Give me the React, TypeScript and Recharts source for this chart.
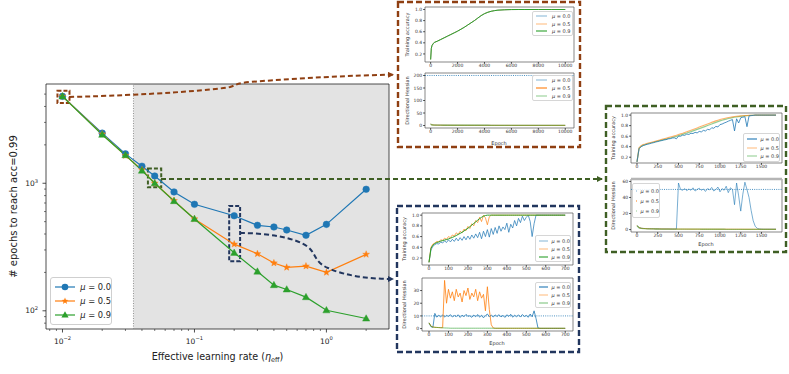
import React from 'react';
import { LineChart, Line, XAxis, YAxis, ReferenceArea, ReferenceLine } from 'recharts';

const BLUE = '#1f77b4';
const ORANGE = '#ff7f0e';
const GREEN = '#2ca02c';
const BROWN = '#8f3f12';
const OLIVE = '#3f5f24';
const NAVY = '#22365e';
const FONT = 'DejaVu Sans, Liberation Sans, sans-serif';

// ---------------- main chart data ----------------
const learningRates = [0.01, 0.02, 0.03, 0.04, 0.05, 0.07, 0.1, 0.2, 0.3, 0.4, 0.5, 0.7, 1, 2];
const epochsMu00 = [4800, 2470, 1700, 1360, 1140, 855, 684, 556, 468, 454, 430, 391, 476, 897];
const epochsMu05 = [4800, 2430, 1650, 1273, 1000, 730, 525, 333, 280, 237, 219, 224, 200, 277];
const epochsMu09 = [4800, 2400, 1660, 1255, 1000, 725, 525, 285, 203, 159, 147, 128, 101, 87];
const xMajorTicks = [0.01, 0.1, 1];
const xMinorTicks = [0.008, 0.009, 0.02, 0.03, 0.04, 0.05, 0.06, 0.07, 0.08, 0.09, 0.2, 0.3, 0.4, 0.5, 0.6, 0.7, 0.8, 0.9, 2];
const yMajorTicks = [100, 1000];
const yMinorTicks = [80, 90, 200, 300, 400, 500, 600, 700, 800, 900, 2000, 3000, 4000, 5000];
const muLabels = ['0.0', '0.5', '0.9'];

// ---------------- inset 1 (eta = 0.01) ----------------
const brownEpochs = [0, 50, 100, 200, 300, 500, 750, 1000, 1250, 1500, 1750, 2000, 2250, 2500, 2750, 3000, 3250, 3500, 3750, 4000, 4250, 4500, 4750, 5000, 5500, 6000, 6500, 7000, 8000, 9000, 10000];
const brownAcc0 = [0.1, 0.3, 0.35, 0.39, 0.41, 0.43, 0.46, 0.49, 0.52, 0.55, 0.58, 0.61, 0.645, 0.68, 0.72, 0.76, 0.8, 0.845, 0.89, 0.925, 0.95, 0.968, 0.98, 0.988, 0.995, 0.999, 1, 1, 1, 1, 1];
const brownAcc5 = [0.1, 0.3, 0.35, 0.39, 0.41, 0.43, 0.461, 0.491, 0.521, 0.551, 0.581, 0.611, 0.646, 0.681, 0.721, 0.761, 0.801, 0.846, 0.891, 0.926, 0.951, 0.968, 0.98, 0.988, 0.995, 0.999, 1, 1, 1, 1, 1];
const brownAcc9 = [0.1, 0.3, 0.35, 0.39, 0.41, 0.43, 0.46, 0.49, 0.52, 0.55, 0.58, 0.61, 0.645, 0.68, 0.72, 0.76, 0.8, 0.845, 0.89, 0.925, 0.95, 0.968, 0.98, 0.988, 0.995, 0.999, 1, 1, 1, 1, 1];
const brownHess0 = [6, 3.5, 2.8, 2.2, 1.9, 1.6, 1.4, 1.3, 1.2, 1.1, 1.05, 1, 0.95, 0.9, 0.88, 0.85, 0.82, 0.8, 0.78, 0.76, 0.74, 0.72, 0.7, 0.68, 0.65, 0.62, 0.6, 0.58, 0.55, 0.52, 0.5];
const brownHess5 = [6, 3.4, 2.7, 2.1, 1.8, 1.5, 1.35, 1.25, 1.15, 1.08, 1.02, 0.98, 0.94, 0.9, 0.87, 0.84, 0.81, 0.79, 0.77, 0.75, 0.73, 0.71, 0.69, 0.67, 0.64, 0.61, 0.59, 0.57, 0.54, 0.51, 0.49];
const brownHess9 = [6, 3.3, 2.6, 2, 1.7, 1.45, 1.3, 1.2, 1.1, 1.05, 1, 0.96, 0.92, 0.88, 0.85, 0.82, 0.8, 0.78, 0.76, 0.74, 0.72, 0.7, 0.68, 0.66, 0.63, 0.6, 0.58, 0.56, 0.53, 0.5, 0.48];

// ---------------- inset 2 (eta = 0.05) ----------------
const greenEpochs = [0, 25, 50, 75, 100, 125, 150, 175, 200, 225, 250, 275, 300, 325, 350, 375, 400, 425, 450, 475, 500, 525, 550, 575, 600, 625, 650, 675, 700, 725, 750, 775, 800, 825, 850, 875, 900, 925, 950, 975, 1000, 1025, 1050, 1075, 1100, 1125, 1150, 1175, 1200, 1225, 1250, 1275, 1300, 1325, 1350, 1375, 1400, 1425, 1450, 1475, 1500, 1525, 1550, 1575, 1600, 1625, 1650, 1675];
const greenAcc0 = [
  0.11, 0.36, 0.4, 0.42, 0.435, 0.445, 0.455, 0.468, 0.476, 0.49,
  0.497, 0.51, 0.516, 0.53, 0.533, 0.548, 0.552, 0.565, 0.568, 0.55,
  0.6, 0.598, 0.62, 0.615, 0.64, 0.632, 0.655, 0.65, 0.672, 0.662,
  0.69, 0.68, 0.71, 0.698, 0.73, 0.72, 0.76, 0.75, 0.785, 0.775,
  0.82, 0.83, 0.85, 0.865, 0.885, 0.9, 0.915, 0.7, 0.93, 0.85,
  0.95, 0.96, 0.97, 0.78, 0.985, 0.99, 0.995, 1, 1, 1,
  1, 1, 1, 1, 1, 1, 1, 1];
const greenAcc5 = [
  0.11, 0.38, 0.42, 0.44, 0.45, 0.465, 0.475, 0.485, 0.495, 0.505,
  0.517, 0.528, 0.539, 0.55, 0.561, 0.572, 0.583, 0.594, 0.605, 0.617,
  0.63, 0.643, 0.656, 0.67, 0.684, 0.698, 0.712, 0.727, 0.742, 0.757,
  0.772, 0.787, 0.802, 0.817, 0.832, 0.847, 0.862, 0.876, 0.89, 0.903,
  0.915, 0.926, 0.936, 0.945, 0.953, 0.96, 0.966, 0.972, 0.977, 0.981,
  0.985, 0.988, 0.991, 0.993, 0.995, 0.997, 0.998, 0.999, 1, 1,
  1, 1, 1, 1, 1, 1, 1, 1];
const greenAcc9 = [
  0.11, 0.37, 0.41, 0.43, 0.44, 0.455, 0.465, 0.475, 0.485, 0.495,
  0.505, 0.515, 0.525, 0.535, 0.545, 0.555, 0.565, 0.575, 0.585, 0.597,
  0.61, 0.622, 0.635, 0.648, 0.66, 0.673, 0.686, 0.7, 0.714, 0.728,
  0.742, 0.757, 0.772, 0.787, 0.802, 0.817, 0.832, 0.847, 0.862, 0.876,
  0.89, 0.902, 0.914, 0.925, 0.935, 0.944, 0.952, 0.959, 0.965, 0.971,
  0.976, 0.981, 0.985, 0.989, 0.992, 0.995, 0.997, 0.998, 0.999, 1,
  1, 1, 1, 1, 1, 1, 1, 1];
const greenHess0 = [
  5, 2.5, 1.8, 1.5, 1.3, 1.2, 1.1, 1, 1, 0.9,
  0.9, 0.9, 0.8, 0.8, 0.8, 0.8, 0.7, 0.7, 0.7, 0.7,
  58, 50, 49, 51, 48.5, 50.5, 49, 52, 48, 50,
  51.5, 49, 50.5, 47.5, 51, 49.5, 52.5, 48, 50, 53,
  47, 51, 49, 54, 46, 52, 50, 31, 58, 42,
  23, 44, 59, 50, 40, 24, 11, 4, 1.5, 0.8,
  0.6, 0.5, 0.5, 0.5, 0.5, 0.5, 0.5, 0.5];
const greenHess5 = [
  5, 2.4, 1.7, 1.4, 1.2, 1.1, 1, 0.95, 0.9, 0.85,
  0.8, 0.8, 0.75, 0.75, 0.7, 0.7, 0.7, 0.65, 0.65, 0.65,
  0.6, 0.6, 0.6, 0.6, 0.58, 0.58, 0.56, 0.56, 0.55, 0.55,
  0.54, 0.54, 0.53, 0.53, 0.52, 0.52, 0.51, 0.51, 0.5, 0.5,
  0.5, 0.49, 0.49, 0.48, 0.48, 0.47, 0.47, 0.46, 0.46, 0.45,
  0.45, 0.45, 0.44, 0.44, 0.44, 0.43, 0.43, 0.43, 0.42, 0.42,
  0.42, 0.41, 0.41, 0.41, 0.4, 0.4, 0.4, 0.4];
const greenHess9 = [
  4.8, 2.2, 1.6, 1.3, 1.1, 1, 0.92, 0.86, 0.8, 0.76,
  0.72, 0.7, 0.68, 0.66, 0.64, 0.62, 0.6, 0.58, 0.57, 0.56,
  0.55, 0.54, 0.53, 0.52, 0.51, 0.5, 0.49, 0.48, 0.47, 0.46,
  0.46, 0.45, 0.45, 0.44, 0.44, 0.43, 0.43, 0.42, 0.42, 0.41,
  0.41, 0.4, 0.4, 0.39, 0.39, 0.38, 0.38, 0.37, 0.37, 0.36,
  0.36, 0.36, 0.35, 0.35, 0.35, 0.34, 0.34, 0.34, 0.33, 0.33,
  0.33, 0.32, 0.32, 0.32, 0.31, 0.31, 0.31, 0.3];

// ---------------- inset 3 (eta = 0.2) ----------------
const navyEpochs = [
  0, 10, 20, 30, 40, 50, 60, 70, 80, 90,
  100, 110, 120, 130, 140, 150, 160, 170, 180, 190,
  200, 210, 220, 230, 240, 250, 260, 270, 280, 290,
  300, 310, 320, 330, 340, 350, 360, 370, 380, 390,
  400, 410, 420, 430, 440, 450, 460, 470, 480, 490,
  500, 510, 520, 530, 540, 550, 560, 570, 580, 590,
  600, 610, 620, 630, 640, 650, 660, 670, 680, 690,
  700];
const navyAcc0 = [
  0.12, 0.35, 0.42, 0.45, 0.47, 0.46, 0.5, 0.48, 0.52, 0.49,
  0.54, 0.5, 0.55, 0.51, 0.57, 0.52, 0.58, 0.53, 0.6, 0.54,
  0.61, 0.55, 0.63, 0.57, 0.65, 0.58, 0.68, 0.56, 0.7, 0.6,
  0.73, 0.59, 0.75, 0.64, 0.77, 0.66, 0.8, 0.7, 0.78, 0.73,
  0.85, 0.68, 0.83, 0.76, 0.9, 0.8, 0.94, 0.86, 0.98, 0.9,
  0.96, 1, 0.88, 0.6, 0.84, 1, 1, 1, 1, 1,
  1, 1, 1, 1, 1, 1, 1, 1, 1, 1,
  1];
const navyAcc5 = [
  0.12, 0.4, 0.46, 0.48, 0.51, 0.5, 0.54, 0.53, 0.57, 0.55,
  0.6, 0.58, 0.63, 0.61, 0.67, 0.64, 0.7, 0.67, 0.74, 0.71,
  0.79, 0.75, 0.84, 0.8, 0.9, 0.86, 0.96, 0.88, 1, 0.95,
  0.82, 0.97, 1, 1, 1, 1, 1, 1, 1, 1,
  1, 1, 1, 1, 1, 1, 1, 1, 1, 1,
  1, 1, 1, 1, 1, 1, 1, 1, 1, 1,
  1, 1, 1, 1, 1, 1, 1, 1, 1, 1,
  1];
const navyAcc9 = [
  0.12, 0.38, 0.44, 0.47, 0.49, 0.5, 0.515, 0.525, 0.535, 0.545,
  0.555, 0.57, 0.585, 0.6, 0.62, 0.64, 0.66, 0.68, 0.705, 0.73,
  0.755, 0.785, 0.815, 0.845, 0.875, 0.905, 0.935, 0.96, 0.98, 0.993,
  1, 1, 1, 1, 1, 1, 1, 1, 1, 1,
  1, 1, 1, 1, 1, 1, 1, 1, 1, 1,
  1, 1, 1, 1, 1, 1, 1, 1, 1, 1,
  1, 1, 1, 1, 1, 1, 1, 1, 1, 1,
  1];
const navyHess0 = [
  4.5, 1.5, 1, 12, 9, 10.5, 9.3, 10.8, 9.1, 10.4,
  9.6, 11, 9.2, 10.3, 9.5, 10.9, 8.8, 10.6, 9.4, 11.2,
  9.7, 10.1, 8.9, 10.7, 9.3, 11.1, 9, 10.5, 8.5, 10.2,
  11.5, 9.4, 10.6, 9.1, 10.8, 9.5, 11, 9.2, 10.4, 8.8,
  10.9, 9.6, 11.3, 9, 10.5, 9.4, 10.8, 9.1, 11.1, 9.5,
  10.4, 8.9, 11.5, 9.3, 14, 8, 0.5, 0.1, 0.1, 0.1,
  0.1, 0.1, 0.1, 0.1, 0.1, 0.1, 0.1, 0.1, 0.1, 0.1,
  0.1];
const navyHess5 = [
  4.5, 2, 1.3, 1, 0.9, 0.8, 0.7, 0.7, 38, 20,
  31, 24, 29, 22, 31, 25, 28, 21, 30, 26,
  32, 23, 28, 25, 31, 22, 29, 24, 27, 14,
  33, 15, 3, 0.5, 0.2, 0.2, 0.2, 0.2, 0.2, 0.2,
  0.2, 0.2, 0.2, 0.2, 0.2, 0.2, 0.2, 0.2, 0.2, 0.2,
  0.2, 0.2, 0.2, 0.2, 0.2, 0.2, 0.2, 0.2, 0.2, 0.2,
  0.2, 0.2, 0.2, 0.2, 0.2, 0.2, 0.2, 0.2, 0.2, 0.2,
  0.2];
const navyHess9 = [
  4.5, 1.8, 1.2, 1, 0.9, 0.8, 0.7, 0.6, 0.5, 0.45,
  0.4, 0.3, 0.3, 0.3, 0.3, 0.3, 0.3, 0.3, 0.3, 0.3,
  0.3, 0.3, 0.3, 0.3, 0.3, 0.3, 0.3, 0.3, 0.3, 0.3,
  0.3, 0.3, 0.3, 0.3, 0.3, 0.3, 0.3, 0.3, 0.3, 0.3,
  0.3, 0.3, 0.3, 0.3, 0.3, 0.3, 0.3, 0.3, 0.3, 0.3,
  0.3, 0.3, 0.3, 0.3, 0.3, 0.3, 0.3, 0.3, 0.3, 0.3,
  0.3, 0.3, 0.3, 0.3, 0.3, 0.3, 0.3, 0.3, 0.3, 0.3,
  0.3];

// ---------------- helpers ----------------
const mainRows = learningRates.map((lr, i) => ({ lr, m0: epochsMu00[i], m5: epochsMu05[i], m9: epochsMu09[i] }));
const rowsOf = (epochs: number[], s0: number[], s5: number[], s9: number[]) =>
  epochs.map((e, i) => ({ e, s0: s0[i], s5: s5[i], s9: s9[i] }));

const isMajor = (v: number) => Math.abs(Math.log10(v) - Math.round(Math.log10(v))) < 1e-6;
const expLabel = (v: number) => {
  const p = Math.round(Math.log10(v));
  return p < 0 ? '\u2212' + Math.abs(p) : String(p);
};

function MainXTick(props: any) {
  const { x, y, payload } = props;
  const major = isMajor(payload.value);
  return (
    <g>
      <line x1={x} x2={x} y1={y} y2={y + (major ? 3.5 : 2)} stroke="#222" strokeWidth={major ? 0.8 : 0.6} />
      {major && (
        <text x={x} y={y + 14.5} textAnchor="middle" fontSize={7.5} fill="#222" fontFamily={FONT}>
          10<tspan dy={-3.2} fontSize={5.2}>{expLabel(payload.value)}</tspan>
        </text>
      )}
    </g>
  );
}

function MainYTick(props: any) {
  const { x, y, payload } = props;
  const major = isMajor(payload.value);
  return (
    <g>
      <line x1={x} x2={x - (major ? 3.5 : 2)} y1={y} y2={y} stroke="#222" strokeWidth={major ? 0.8 : 0.6} />
      {major && (
        <text x={x - 8} y={y + 2.6} textAnchor="end" fontSize={7.5} fill="#222" fontFamily={FONT}>
          10<tspan dy={-3.2} fontSize={5.2}>{expLabel(payload.value)}</tspan>
        </text>
      )}
    </g>
  );
}

function XLabel(props: any) {
  const vb = props.viewBox || { x: 46, y: 329, width: 343, height: 30 };
  return (
    <text x={vb.x + vb.width / 2} y={vb.y + 30.5} textAnchor="middle" fontSize={9.6} fill="#222" fontFamily={FONT}>
      Effective learning rate (<tspan fontStyle="italic">η</tspan>
      <tspan fontSize={6.5} dy={2}>eff</tspan>
      <tspan dy={-2}>)</tspan>
    </text>
  );
}

const circleDot = (p: any) => <circle key={'c' + p.index} cx={p.cx} cy={p.cy} r={3.3} fill={BLUE} stroke={BLUE} strokeWidth={0.5} />;
const starPoints = (cx: number, cy: number, ro: number, ri: number) => {
  const pts: string[] = [];
  for (let k = 0; k < 10; k++) {
    const r = k % 2 === 0 ? ro : ri;
    const a = -Math.PI / 2 + (k * Math.PI) / 5;
    pts.push(`${cx + r * Math.cos(a)},${cy + r * Math.sin(a)}`);
  }
  return pts.join(' ');
};
const starDot = (p: any) => <polygon key={'s' + p.index} points={starPoints(p.cx, p.cy, 3.6, 1.5)} fill={ORANGE} stroke={ORANGE} strokeWidth={0.4} />;
const triDot = (p: any) => (
  <polygon key={'t' + p.index} points={`${p.cx},${p.cy - 3.8} ${p.cx - 3.6},${p.cy + 2.6} ${p.cx + 3.6},${p.cy + 2.6}`} fill={GREEN} stroke={GREEN} strokeWidth={0.4} />
);

function MarkerIcon({ kind, x, y }: { kind: number; x: number; y: number }) {
  if (kind === 0) return <circle cx={x} cy={y} r={3.3} fill={BLUE} />;
  if (kind === 1) return <polygon points={starPoints(x, y, 3.6, 1.5)} fill={ORANGE} />;
  return <polygon points={`${x},${y - 3.8} ${x - 3.6},${y + 2.6} ${x + 3.6},${y + 2.6}`} fill={GREEN} />;
}

function MainLegend() {
  const cols = [BLUE, ORANGE, GREEN];
  return (
    <div style={{ position: 'absolute', left: 50, top: 277, width: 62, height: 48, boxSizing: 'border-box', border: '0.8px solid #cfcfcf', borderRadius: 3, background: 'rgba(255,255,255,0.85)', display: 'flex', flexDirection: 'column', justifyContent: 'space-evenly', padding: '1px 0' }}>
      {muLabels.map((m, i) => (
        <div key={m} style={{ display: 'flex', alignItems: 'center', height: 13 }}>
          <svg width={26} height={12} style={{ marginLeft: 2 }}>
            <line x1={2} x2={22} y1={6} y2={6} stroke={cols[i]} strokeWidth={1.2} />
            <MarkerIcon kind={i} x={12} y={6} />
          </svg>
          <span style={{ fontSize: 8.3, color: '#222', fontFamily: FONT, whiteSpace: 'nowrap', marginLeft: 4 }}>
            <i>μ</i> = {m}
          </span>
        </div>
      ))}
    </div>
  );
}

type Item = { color: string; opacity: number };
function SmallLegend({ x, y, w, h, items }: { x: number; y: number; w: number; h: number; items: Item[] }) {
  return (
    <div style={{ position: 'absolute', left: x, top: y, width: w, height: h, boxSizing: 'border-box', border: '0.6px solid #d6d6d6', borderRadius: 2, background: 'rgba(255,255,255,0.85)', display: 'flex', flexDirection: 'column', justifyContent: 'space-evenly' }}>
      {items.map((it, i) => (
        <div key={i} style={{ display: 'flex', alignItems: 'center', height: 7 }}>
          <svg width={14} height={6} style={{ marginLeft: 2 }}>
            <line x1={1} x2={12} y1={3} y2={3} stroke={it.color} strokeOpacity={it.opacity} strokeWidth={1.1} />
          </svg>
          <span style={{ fontSize: 5, color: '#333', fontFamily: FONT, whiteSpace: 'nowrap', marginLeft: 3 }}>
            <i>μ</i> = {muLabels[i]}
          </span>
        </div>
      ))}
    </div>
  );
}

type Rect = { l: number; t: number; r: number; b: number };
type Ser = { key: string; color: string; opacity: number; width?: number };
function SubPlot(props: {
  rect: Rect; rows: any[]; series: Ser[]; xDomain: number[]; xTicks: number[]; yDomain: number[]; yTicks: number[];
  yFmt?: (v: number) => string; ylabel: string; refY?: number; topBand?: boolean;
}) {
  const { rect, rows, series, xDomain, xTicks, yDomain, yTicks, yFmt, ylabel, refY, topBand } = props;
  const LEFT = 30, RIGHT = 3, TOPM = 3, BOTTOM = 10;
  const w = rect.r - rect.l, h = rect.b - rect.t;
  return (
    <div style={{ position: 'absolute', left: rect.l - LEFT, top: rect.t - TOPM }}>
      <LineChart width={w + LEFT + RIGHT} height={h + TOPM + BOTTOM} data={rows} margin={{ top: TOPM, right: RIGHT, bottom: 0, left: 0 }}>
        <XAxis dataKey="e" type="number" domain={xDomain} ticks={xTicks} interval={0} allowDataOverflow height={BOTTOM}
          axisLine={false} tickSize={1.8} tickMargin={0.4} tick={{ fontSize: 4.5, fill: '#333', fontFamily: FONT }} stroke="#444" />
        <YAxis type="number" domain={yDomain} ticks={yTicks} interval={0} allowDataOverflow width={LEFT}
          axisLine={false} tickSize={1.8} tickMargin={1} tick={{ fontSize: 4.5, fill: '#333', fontFamily: FONT }} tickFormatter={yFmt} stroke="#444"
          label={{ value: ylabel, angle: -90, position: 'insideLeft', offset: 12.5, style: { textAnchor: 'middle', fontSize: 5, fill: '#333', fontFamily: FONT } }} />
        {refY !== undefined && <ReferenceLine y={refY} stroke={BLUE} strokeDasharray="1 1.2" strokeWidth={0.8} />}
        {series.map((s) => (
          <Line key={s.key} dataKey={s.key} stroke={s.color} strokeOpacity={s.opacity} strokeWidth={s.width ?? 0.8} dot={false} isAnimationActive={false} />
        ))}
        {topBand && <ReferenceLine y={yDomain[1]} stroke="#b5b5b5" strokeWidth={2.4} />}
        <ReferenceArea x1={xDomain[0]} x2={xDomain[1]} y1={yDomain[0]} y2={yDomain[1]} fill="none" fillOpacity={0} stroke="#555" strokeWidth={0.7} />
      </LineChart>
    </div>
  );
}

const fmt1 = (v: number) => v.toFixed(1);
const fmt0 = (v: number) => String(v);
const accTicks = [0.2, 0.4, 0.6, 0.8, 1.0];

function EpochLabel({ x, y }: { x: number; y: number }) {
  return <div style={{ position: 'absolute', left: x - 20, top: y - 4, width: 40, textAlign: 'center', fontSize: 5, lineHeight: '8px', color: '#333', fontFamily: FONT }}>Epoch</div>;
}

export default function App() {
  const brownTopRows = rowsOf(brownEpochs, brownAcc0, brownAcc5, brownAcc9);
  const brownBotRows = rowsOf(brownEpochs, brownHess0, brownHess5, brownHess9);
  const greenTopRows = rowsOf(greenEpochs, greenAcc0, greenAcc5, greenAcc9);
  const greenBotRows = rowsOf(greenEpochs, greenHess0, greenHess5, greenHess9);
  const navyTopRows = rowsOf(navyEpochs, navyAcc0, navyAcc5, navyAcc9);
  const navyBotRows = rowsOf(navyEpochs, navyHess0, navyHess5, navyHess9);

  const brownX = [-420, 10650];
  const greenX = [-72, 1747];
  const navyX = [-36, 740];

  return (
    <div style={{ position: 'absolute', left: 0, top: 0, width: 789, height: 374, background: '#fff', fontFamily: FONT, overflow: 'hidden' }}>
      {/* main chart */}
      <div style={{ position: 'absolute', left: 0, top: 0 }}>
        <LineChart width={400} height={374} data={mainRows} margin={{ top: 84, right: 11, bottom: 15, left: 0 }}>
          <XAxis dataKey="lr" type="number" scale="log" domain={[0.0075, 2.98]} allowDataOverflow
            ticks={[...xMinorTicks, ...xMajorTicks].sort((a, b) => a - b)} interval={0}
            tick={<MainXTick />} tickLine={false} axisLine={false} tickSize={0} tickMargin={0} height={30}
            label={<XLabel />} />
          <YAxis type="number" scale="log" domain={[72, 6000]} allowDataOverflow
            ticks={[...yMinorTicks, ...yMajorTicks].sort((a, b) => a - b)} interval={0}
            tick={<MainYTick />} tickLine={false} axisLine={false} tickSize={0} tickMargin={0} width={46}
            label={{ value: '# epochs to reach acc=0.99', angle: -90, position: 'insideLeft', offset: 13, style: { textAnchor: 'middle', fontSize: 10, fill: '#222', fontFamily: FONT } }} />
          <ReferenceArea x1={0.0345} x2={2.98} y1={72} y2={6000} fill="#e3e3e3" fillOpacity={1} stroke="none" />
          <ReferenceLine x={0.0345} stroke="#888" strokeDasharray="1 1.5" strokeWidth={0.9} />
          <Line dataKey="m0" stroke={BLUE} strokeWidth={1.2} dot={circleDot} isAnimationActive={false} />
          <Line dataKey="m5" stroke={ORANGE} strokeWidth={1.2} dot={starDot} isAnimationActive={false} />
          <Line dataKey="m9" stroke={GREEN} strokeWidth={1.2} dot={triDot} isAnimationActive={false} />
          <ReferenceArea x1={0.00916} x2={0.0113} y1={4250} y2={5310} fill="none" fillOpacity={0} stroke={BROWN} strokeWidth={2} strokeDasharray="4 2" />
          <ReferenceArea x1={0.0444} x2={0.056} y1={930} y2={1303} fill="none" fillOpacity={0} stroke={OLIVE} strokeWidth={2} strokeDasharray="4 2" />
          <ReferenceArea x1={0.1833} x2={0.2218} y1={245} y2={664} fill="none" fillOpacity={0} stroke={NAVY} strokeWidth={2} strokeDasharray="4 2" />
          <ReferenceArea x1={0.0075} x2={2.98} y1={72} y2={6000} fill="none" fillOpacity={0} stroke="#222" strokeWidth={0.8} />
        </LineChart>
        <MainLegend />
      </div>

      {/* inset eta=0.01 */}
      <SubPlot rect={{ l: 425, t: 7, r: 574, b: 62 }} rows={brownTopRows}
        series={[{ key: 's0', color: BLUE, opacity: 0.5 }, { key: 's5', color: ORANGE, opacity: 0.5 }, { key: 's9', color: GREEN, opacity: 1, width: 1 }]}
        xDomain={brownX} xTicks={[0, 2000, 4000, 6000, 8000, 10000]} yDomain={[0.055, 1.045]} yTicks={accTicks} yFmt={fmt1} ylabel="Training accuracy" />
      <SubPlot rect={{ l: 425, t: 73, r: 574, b: 128 }} rows={brownBotRows}
        series={[{ key: 's0', color: BLUE, opacity: 0.5 }, { key: 's5', color: ORANGE, opacity: 1 }, { key: 's9', color: GREEN, opacity: 0.5, width: 1.4 }]}
        xDomain={brownX} xTicks={[0, 2000, 4000, 6000, 8000, 10000]} yDomain={[-10, 210]} yTicks={[0, 50, 100, 150, 200]} yFmt={fmt0} ylabel="Directional Hessian" refY={200} />
      <SmallLegend x={532} y={11} w={41} h={25} items={[{ color: BLUE, opacity: 0.5 }, { color: ORANGE, opacity: 0.5 }, { color: GREEN, opacity: 1 }]} />
      <SmallLegend x={532} y={75} w={41} h={26} items={[{ color: BLUE, opacity: 0.5 }, { color: ORANGE, opacity: 1 }, { color: GREEN, opacity: 0.5 }]} />
      <EpochLabel x={499} y={143} />

      {/* inset eta=0.05 */}
      <SubPlot rect={{ l: 631, t: 113, r: 782, b: 163 }} rows={greenTopRows}
        series={[{ key: 's9', color: GREEN, opacity: 0.5, width: 1.2 }, { key: 's5', color: ORANGE, opacity: 0.6, width: 1.1 }, { key: 's0', color: BLUE, opacity: 1 }]}
        xDomain={greenX} xTicks={[0, 250, 500, 750, 1000, 1250, 1500]} yDomain={[0.09, 1.04]} yTicks={accTicks} yFmt={fmt1} ylabel="Training accuracy" />
      <SubPlot rect={{ l: 631, t: 179, r: 782, b: 232 }} rows={greenBotRows}
        series={[{ key: 's0', color: BLUE, opacity: 0.75 }, { key: 's5', color: ORANGE, opacity: 1 }, { key: 's9', color: GREEN, opacity: 0.5, width: 1.3 }]}
        xDomain={greenX} xTicks={[0, 250, 500, 750, 1000, 1250, 1500]} yDomain={[-3, 63]} yTicks={[0, 20, 40, 60]} yFmt={fmt0} ylabel="Directional Hessian" refY={50} topBand />
      <SmallLegend x={743} y={133} w={37} h={29} items={[{ color: BLUE, opacity: 1 }, { color: ORANGE, opacity: 0.5 }, { color: GREEN, opacity: 0.5 }]} />
      <SmallLegend x={632} y={183} w={28} h={35} items={[{ color: BLUE, opacity: 0.6 }, { color: ORANGE, opacity: 1 }, { color: GREEN, opacity: 0.5 }]} />
      <EpochLabel x={706} y={244} />

      {/* inset eta=0.2 */}
      <SubPlot rect={{ l: 422, t: 213, r: 573, b: 265 }} rows={navyTopRows}
        series={[{ key: 's0', color: BLUE, opacity: 0.9 }, { key: 's5', color: ORANGE, opacity: 0.85 }, { key: 's9', color: GREEN, opacity: 1, width: 1 }]}
        xDomain={navyX} xTicks={[0, 100, 200, 300, 400, 500, 600, 700]} yDomain={[0.07, 1.04]} yTicks={accTicks} yFmt={fmt1} ylabel="Training accuracy" />
      <SubPlot rect={{ l: 422, t: 278, r: 573, b: 331 }} rows={navyBotRows}
        series={[{ key: 's0', color: BLUE, opacity: 1 }, { key: 's5', color: ORANGE, opacity: 1 }, { key: 's9', color: GREEN, opacity: 0.6, width: 1 }]}
        xDomain={navyX} xTicks={[0, 100, 200, 300, 400, 500, 600, 700]} yDomain={[-1.9, 39.9]} yTicks={[0, 10, 20, 30]} yFmt={fmt0} ylabel="Directional Hessian" refY={10} />
      <SmallLegend x={535} y={235} w={36} h={27} items={[{ color: BLUE, opacity: 0.5 }, { color: ORANGE, opacity: 0.5 }, { color: GREEN, opacity: 1 }]} />
      <SmallLegend x={535} y={282} w={36} h={26} items={[{ color: BLUE, opacity: 1 }, { color: ORANGE, opacity: 0.5 }, { color: GREEN, opacity: 0.6 }]} />
      <EpochLabel x={497} y={343} />

      {/* frames and connectors */}
      <svg width={789} height={374} style={{ position: 'absolute', left: 0, top: 0, pointerEvents: 'none' }}>
        <defs>
          {[['ab', BROWN], ['ag', OLIVE], ['an', NAVY]].map(([id, c]) => (
            <marker key={id} id={id} markerWidth={6} markerHeight={6} refX={5} refY={3} orient="auto" markerUnits="userSpaceOnUse">
              <path d="M0,0 L6,3 L0,6 z" fill={c} />
            </marker>
          ))}
        </defs>
        <rect x={398} y={2} width={182} height={145} fill="none" stroke={BROWN} strokeWidth={2.4} strokeDasharray="6 3" />
        <rect x={606} y={106} width={180} height={146} fill="none" stroke={OLIVE} strokeWidth={2.4} strokeDasharray="6 3" />
        <rect x={397} y={206} width={182} height={146} fill="none" stroke={NAVY} strokeWidth={2.4} strokeDasharray="6 3" />
        <path d="M69,97 C150,95 215,90 230,87 C236,85 238,83 250,82 C300,78 350,75.5 393,74.7" fill="none" stroke={BROWN} strokeWidth={2} strokeDasharray="5 3" markerEnd="url(#ab)" />
        <path d="M161,179 L602,179" fill="none" stroke={OLIVE} strokeWidth={2} strokeDasharray="5 3" markerEnd="url(#ag)" />
        <path d="M240,233 C265,233 295,237 308,247 C316,253 314,262 328,268 C345,276 370,279 393,279" fill="none" stroke={NAVY} strokeWidth={2} strokeDasharray="5 3" markerEnd="url(#an)" />
      </svg>
    </div>
  );
}
